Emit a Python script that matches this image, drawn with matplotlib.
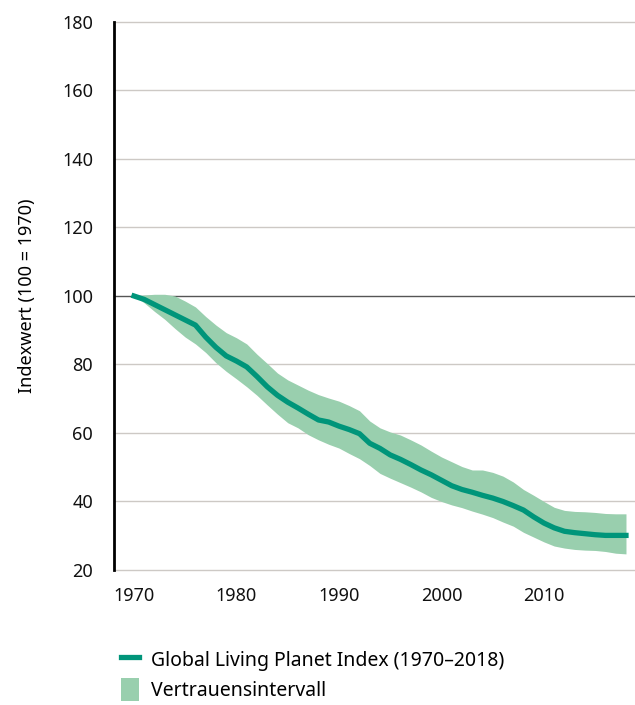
import matplotlib.pyplot as plt
import numpy as np

plt.rcParams['font.family'] = ['Noto Sans', 'DejaVu Sans']

# Global Living Planet Index
years = list(range(1970, 2019))
lpi = [100, 99, 97.5, 96, 94.5, 93, 91.5, 88, 85, 82.5,
       81, 79.3, 76.5, 73.5, 71, 69, 67.3, 65.5, 63.8, 63.2,
       62, 61, 59.8, 57, 55.5, 53.6, 52.3, 50.8, 49.2, 47.8,
       46.2, 44.6, 43.5, 42.7, 41.8, 41, 40, 38.8, 37.5, 35.5,
       33.7, 32.3, 31.3, 30.9, 30.6, 30.3, 30.1, 30.1, 30.1]
upper = [100, 100.3, 100.5, 100.5, 100, 98.5, 96.8, 94, 91.5, 89.3,
         87.8, 86, 83, 80.3, 77.5, 75.5, 74, 72.5, 71.2, 70.2,
         69.3, 68, 66.5, 63.5, 61.5, 60.3, 59.4, 58, 56.5, 54.7,
         53, 51.6, 50.2, 49.2, 49.2, 48.5, 47.4, 45.7, 43.5, 41.8,
         40, 38.3, 37.4, 37.1, 37, 36.8, 36.5, 36.4, 36.4]
lower = [100, 98, 95.5, 93.2, 90.5, 88, 86, 83.5, 80.5, 78,
         75.8, 73.5, 71, 68.2, 65.5, 63, 61.5, 59.5, 58, 56.7,
         55.6, 54, 52.5, 50.5, 48.2, 46.8, 45.5, 44.2, 42.8, 41.2,
         40, 39, 38.2, 37.2, 36.3, 35.3, 34, 32.8, 31, 29.6,
         28.2, 27, 26.4, 26, 25.8, 25.7, 25.4, 24.9, 24.7]

y_ticks = [20, 40, 60, 80, 100, 120, 140, 160, 180]
x_ticks = [1970, 1980, 1990, 2000, 2010]

line_color = '#00957a'
band_color = '#99cfae'

fig = plt.figure(figsize=(6.35, 7.05), dpi=100)
ax = fig.add_axes([0.1795, 0.1915, 0.8205, 0.7773])

# gridlines
for v in y_ticks:
    if v == 100:
        ax.axhline(v, color='#555555', linewidth=1, zorder=1, clip_on=False)
    else:
        ax.axhline(v, color='#cdc9c5', linewidth=1, zorder=1, clip_on=False)

ax.fill_between(years, lower, upper, color=band_color, linewidth=0, zorder=2,
                label='Vertrauensintervall')
ax.plot(years, lpi, color=line_color, linewidth=3.8, zorder=3,
        label='Global Living Planet Index (1970–2018)')

ax.set_xlim(1968.05, 2018.88)
ax.set_ylim(20, 180)
ax.set_yticks(y_ticks)
ax.set_xticks(x_ticks)
ax.tick_params(axis='both', length=0, labelsize=13, colors='#111111')
ax.tick_params(axis='y', pad=15)
ax.tick_params(axis='x', pad=12)
for lab in ax.get_yticklabels():
    if lab.get_text() == '100':
        lab.set_fontweight('bold')

for s in ['top', 'right', 'bottom']:
    ax.spines[s].set_visible(False)
ax.spines['left'].set_linewidth(2)
ax.spines['left'].set_color('#000000')
ax.spines['left'].set_zorder(4)

ax.set_ylabel('Indexwert (100 = 1970)', fontsize=13, labelpad=19)

handles, labels = ax.get_legend_handles_labels()
fig.legend(handles[::-1], labels[::-1], loc='upper left',
           bbox_to_anchor=(0.178, 0.092), frameon=False, fontsize=14,
           handlelength=0.95, handleheight=1.45, handletextpad=0.6,
           labelspacing=0.35, borderaxespad=0)

fig.savefig('out.png', dpi=100)
